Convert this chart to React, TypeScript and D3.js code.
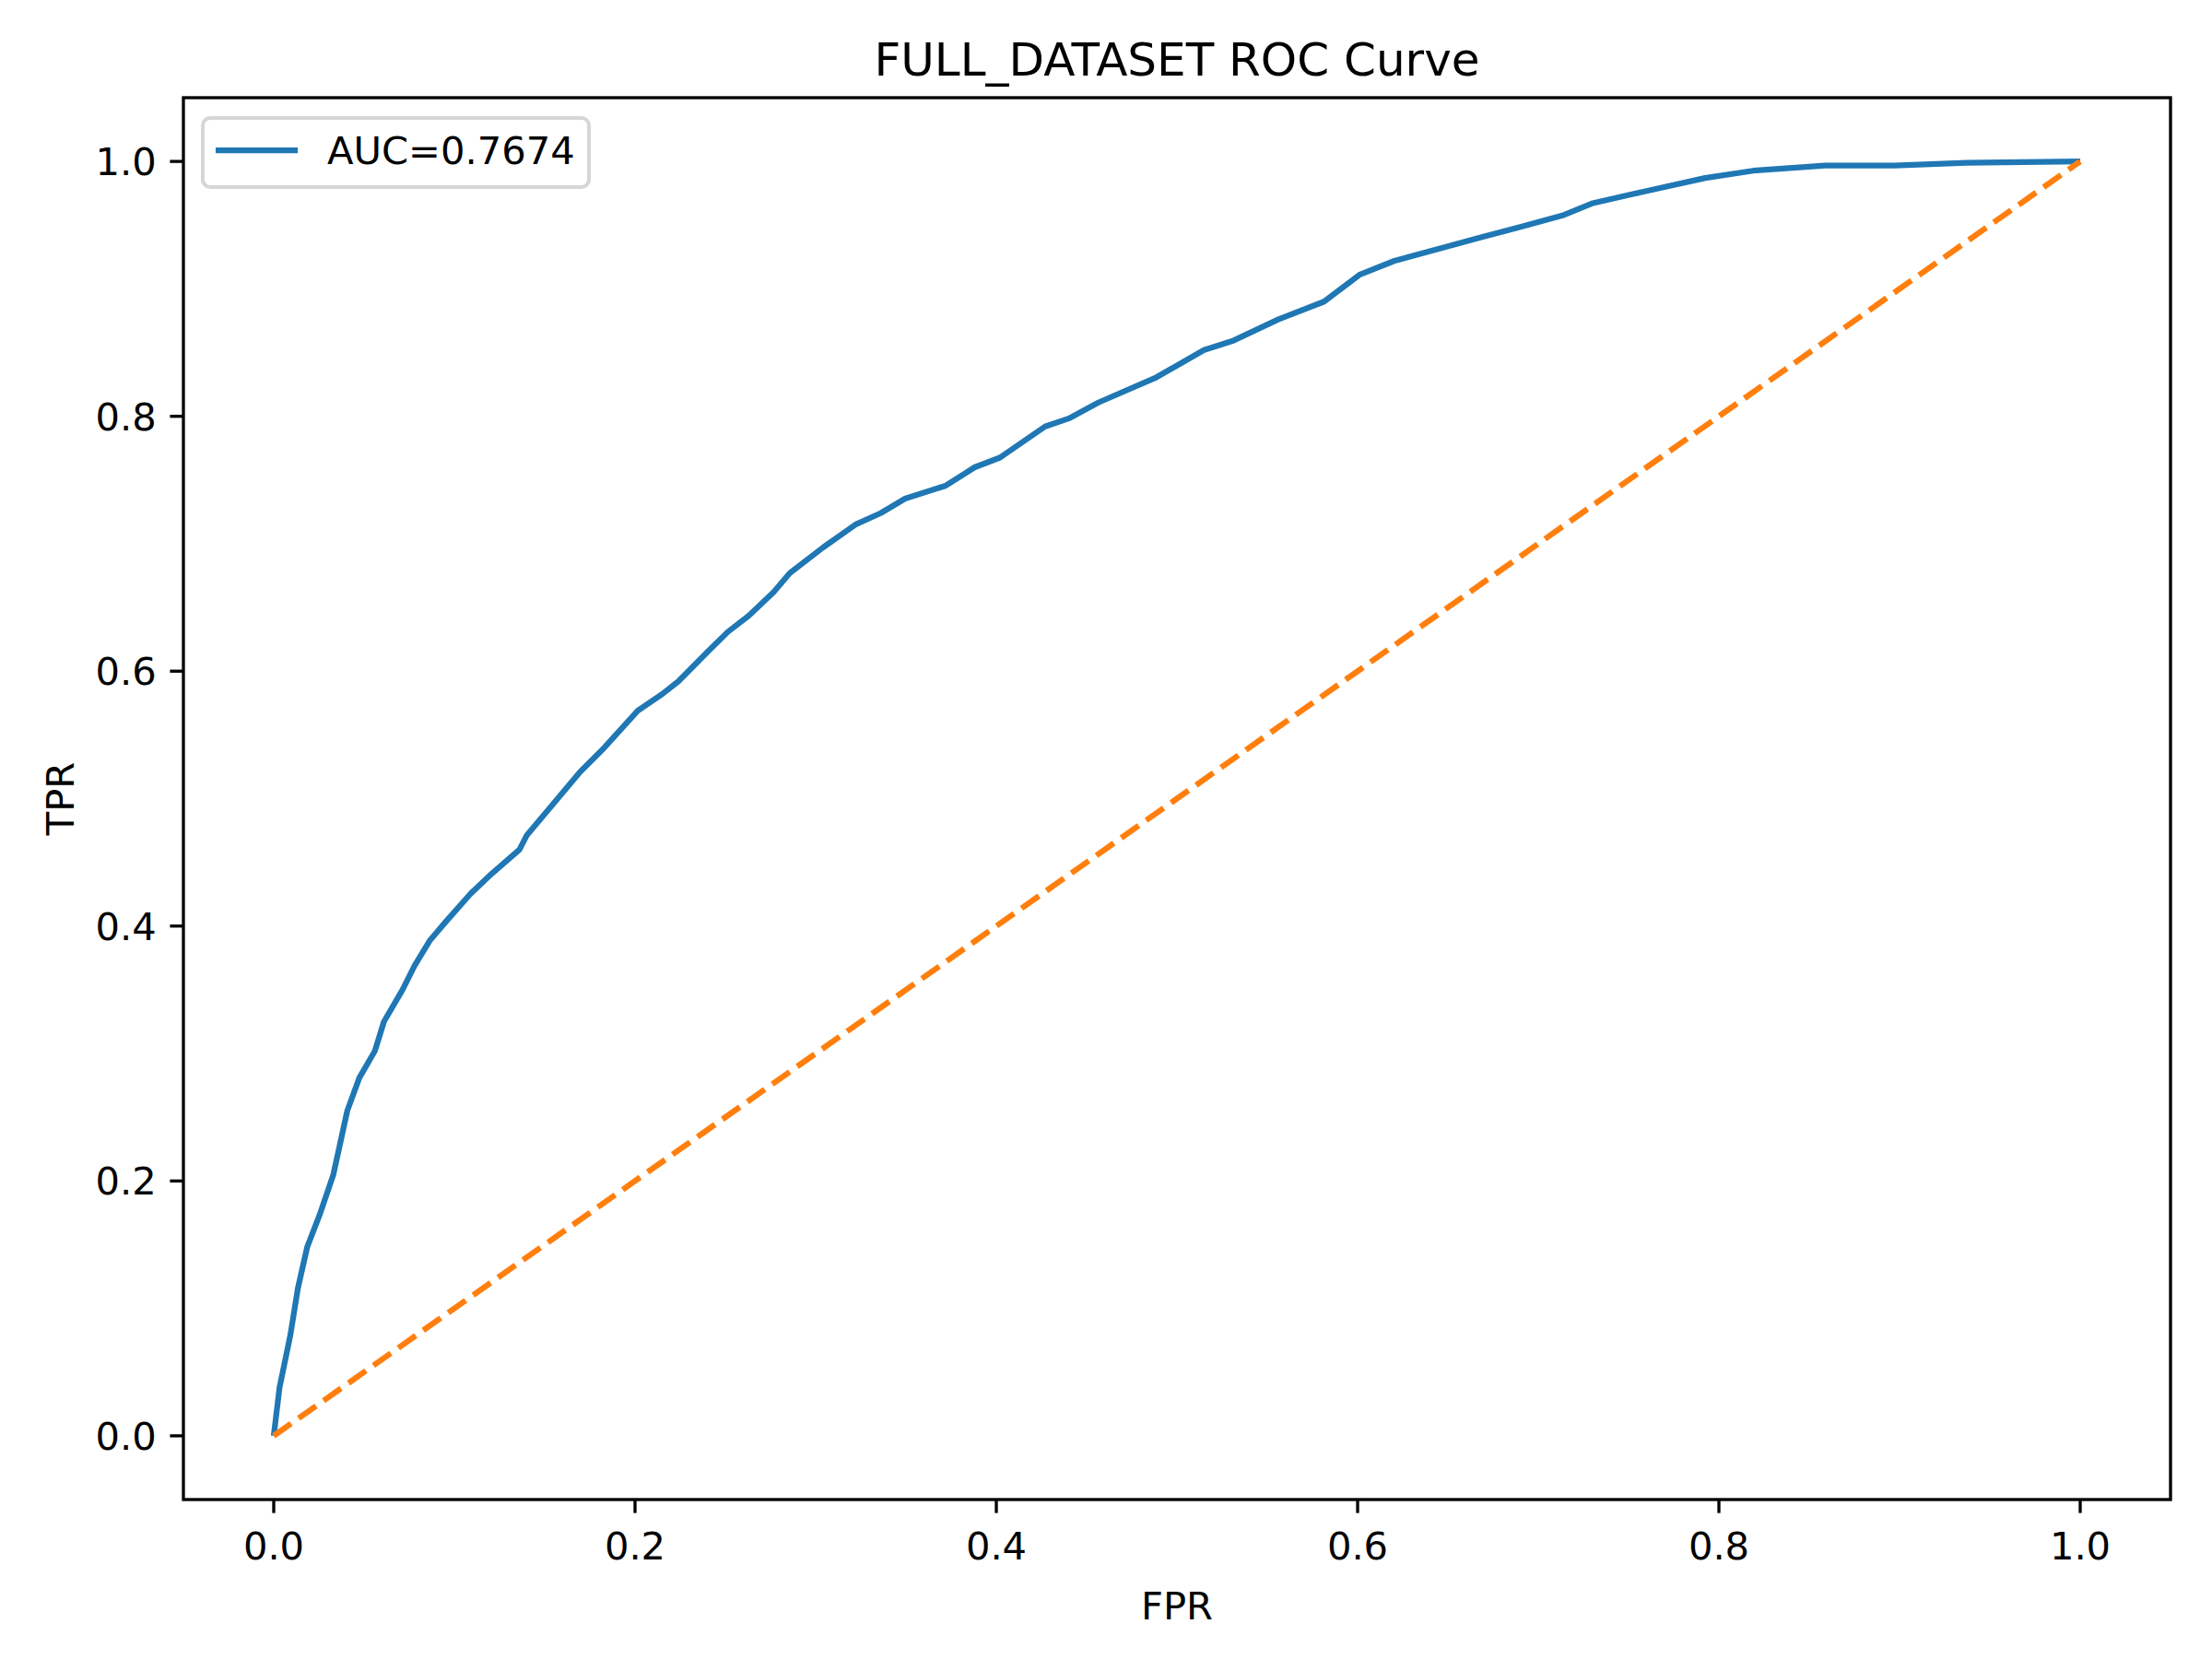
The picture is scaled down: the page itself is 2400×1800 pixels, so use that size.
import React, { useEffect } from 'react';
import * as d3 from 'd3';

// ROC curve points
const fpr = [
  0, 0.0032, 0.0092, 0.0134, 0.0185, 0.0253, 0.033, 0.0364, 0.0407, 0.0474, 0.056, 0.061,
  0.0713, 0.078, 0.0866, 0.095, 0.1087, 0.1206, 0.136, 0.14, 0.1696, 0.183, 0.2015, 0.215,
  0.224, 0.24, 0.2515, 0.263, 0.2767, 0.2857, 0.304, 0.322, 0.336, 0.3495, 0.372, 0.388,
  0.402, 0.427, 0.4407, 0.4565, 0.4878, 0.515, 0.5306, 0.556, 0.5814, 0.601, 0.6204, 0.6439,
  0.6673, 0.691, 0.7143, 0.7296, 0.753, 0.7924, 0.819, 0.8587, 0.897, 0.937, 1.0,
];
const tpr = [
  0, 0.0377, 0.079, 0.116, 0.148, 0.173, 0.205, 0.227, 0.255, 0.281, 0.302, 0.325,
  0.35, 0.369, 0.389, 0.403, 0.425, 0.441, 0.46, 0.471, 0.521, 0.54, 0.569, 0.582,
  0.592, 0.615, 0.631, 0.6435, 0.662, 0.677, 0.697, 0.715, 0.724, 0.7354, 0.7456, 0.76,
  0.7676, 0.792, 0.7986, 0.8108, 0.83, 0.852, 0.859, 0.876, 0.89, 0.911, 0.922, 0.931,
  0.94, 0.949, 0.958, 0.967, 0.9746, 0.987, 0.9927, 0.9968, 0.9968, 0.999, 1.0,
];
const chanceX = [0, 1];
const chanceY = [0, 1];
const tickValues = [0, 0.2, 0.4, 0.6, 0.8, 1.0];
const aucLabel = 'AUC=0.7674';
const title = 'FULL_DATASET ROC Curve';

const W = 2400;
const H = 1800;
const left = 199;
const right = 2355;
const top = 106;
const bottom = 1627;
const FONT = 'DejaVu Sans, sans-serif';
const fs = 41.67;

const App = () => {
  useEffect(() => {
    document.body.style.margin = '0';
  }, []);

  const x = d3.scaleLinear().domain([-0.05, 1.05]).range([left, right]);
  const y = d3.scaleLinear().domain([-0.05, 1.05]).range([bottom, top]);
  const fmt = d3.format('.1f');

  const line = d3
    .line<number>()
    .x((d, i) => x(d))
    .y((d, i) => y(tpr[i]));
  const chance = d3
    .line<number>()
    .x((d) => x(d))
    .y((d, i) => y(chanceY[i]));

  return (
    <svg width={W} height={H} style={{ display: 'block', background: '#fff' }}>
      <rect x={0} y={0} width={W} height={H} fill="#fff" />
      {/* curves */}
      <path
        d={line(fpr) || ''}
        fill="none"
        stroke="#1f77b4"
        strokeWidth={6.25}
        strokeLinejoin="round"
        strokeLinecap="butt"
      />
      <path
        d={chance(chanceX) || ''}
        fill="none"
        stroke="#ff7f0e"
        strokeWidth={6.25}
        strokeDasharray="23.1 10"
      />
      {/* spines */}
      <rect
        x={left}
        y={top}
        width={right - left}
        height={bottom - top}
        fill="none"
        stroke="#000"
        strokeWidth={3.33}
      />
      {/* x ticks */}
      {tickValues.map((t) => (
        <g key={'x' + t}>
          <line x1={x(t)} x2={x(t)} y1={bottom} y2={bottom + 14.6} stroke="#000" strokeWidth={3.33} />
          <text x={x(t)} y={1692} textAnchor="middle" fontFamily={FONT} fontSize={fs}>
            {fmt(t)}
          </text>
        </g>
      ))}
      {/* y ticks */}
      {tickValues.map((t) => (
        <g key={'y' + t}>
          <line x1={left - 14.6} x2={left} y1={y(t)} y2={y(t)} stroke="#000" strokeWidth={3.33} />
          <text x={left - 29.2} y={y(t) + 15} textAnchor="end" fontFamily={FONT} fontSize={fs}>
            {fmt(t)}
          </text>
        </g>
      ))}
      {/* labels */}
      <text x={(left + right) / 2} y={1757} textAnchor="middle" fontFamily={FONT} fontSize={fs}>
        FPR
      </text>
      <text
        transform={`translate(80, ${(top + bottom) / 2}) rotate(-90)`}
        textAnchor="middle"
        fontFamily={FONT}
        fontSize={fs}
      >
        TPR
      </text>
      <text x={(left + right) / 2} y={82} textAnchor="middle" fontFamily={FONT} fontSize={50}>
        {title}
      </text>
      {/* legend */}
      <rect x={220} y={128} width={419} height={75} rx={8} fill="#fff" fillOpacity={0.8} stroke="#d6d6d6" strokeWidth={4} />
      <line x1={234} x2={323} y1={163} y2={163} stroke="#1f77b4" strokeWidth={6.25} />
      <text x={355} y={178} fontFamily={FONT} fontSize={fs}>
        {aucLabel}
      </text>
    </svg>
  );
};

export default App;
